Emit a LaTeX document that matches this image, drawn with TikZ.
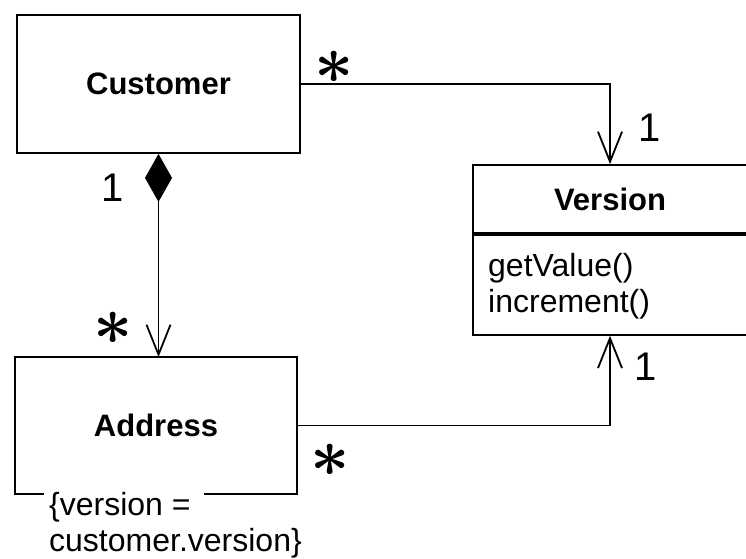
\documentclass[tikz,border=0pt]{standalone}
\usepackage{fontspec}
\setmainfont{Liberation Sans}
\usetikzlibrary{arrows.meta}
\tikzset{
  cls/.style={draw, line width=1.8pt, inner sep=0pt, font=\fontsize{31}{31}\selectfont\bfseries},
  conn/.style={line width=1.8pt},
  nav/.style={-{Straight Barb[length=30pt,width=24pt,line width=1.8pt]}},
  mult/.style={inner sep=0pt, font=\fontsize{40}{40}\selectfont},
  star/.style={inner sep=0pt, font=\fontsize{20}{20}\selectfont},
  txt/.style={inner sep=0pt, font=\fontsize{32}{36}\selectfont}
}
\newcommand{\multstar}{\scalebox{3.3}{\boldmath$\ast$}}
\begin{document}
\begin{tikzpicture}[x=1pt,y=-1pt]
\useasboundingbox (0,0) rectangle (746,558);
\fill[white] (0,0) rectangle (746,558);
% Customer
\node[cls, minimum width=283pt, minimum height=138pt] (cust) at (158.5,84) {Customer};
% Address (border drawn separately because of the gap)
\node[cls, draw=none, minimum width=280pt, minimum height=135pt] (addr) at (156,425.5) {Address};
\draw[line width=1.8pt] ([xshift=29pt]addr.south west) -- (addr.south west) -- (addr.north west) -- (addr.north east) -- (addr.south east) -- ([xshift=-93pt]addr.south east);
\node[txt, anchor=north west, align=left] (cons) at (49,492) {\{version =\\customer.version\}};
% Version
\node[cls, minimum width=274pt, minimum height=68pt] (ver) at (610,199) {Version};
\node[draw, line width=1.8pt, inner sep=0pt, minimum width=274pt, minimum height=100pt, anchor=north] (meth) at (ver.south) {};
\node[txt, anchor=north west, align=left] (ops) at (488,253) {getValue()\\increment()};
% connectors
\draw[conn, {Diamond[length=48pt,width=27pt]}-{Straight Barb[length=30pt,width=24pt,line width=1.8pt]}] (cust.south) -- (cust.south |- addr.north);
\draw[conn, nav] (cust.east) -| (ver.north);
\draw[conn, nav] (addr.east) -| (meth.south);
% multiplicities
\node[star] (s1) at (334,67) {\multstar};
\node[mult] (m1) at (650,128) {1};
\node[mult] (m2) at (113,188) {1};
\node[star] (s2) at (113,328) {\multstar};
\node[mult] (m3) at (646,367) {1};
\node[star] (s3) at (330,460) {\multstar};
\end{tikzpicture}
\end{document}
